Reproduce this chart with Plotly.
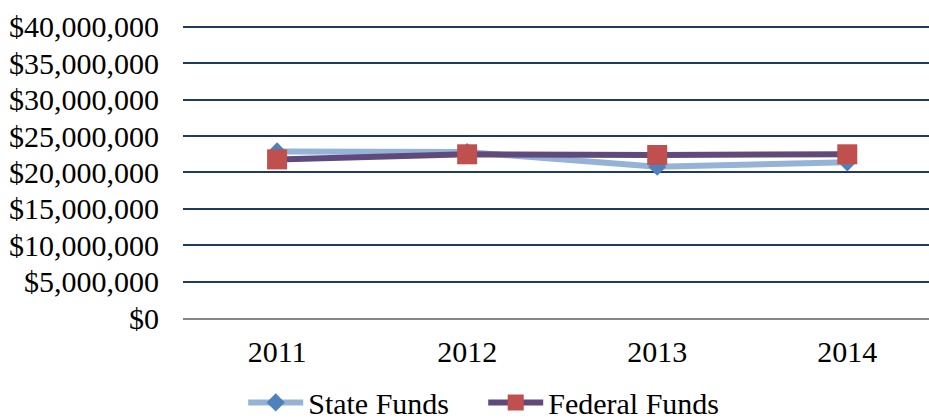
import plotly.graph_objects as go

years = ["2011", "2012", "2013", "2014"]
state_funds = [22900000, 22800000, 20800000, 21400000]
federal_funds = [21800000, 22500000, 22400000, 22500000]
y_ticks = [0, 5000000, 10000000, 15000000, 20000000, 25000000, 30000000, 35000000, 40000000]
y_tick_labels = ["$0", "$5,000,000", "$10,000,000", "$15,000,000", "$20,000,000",
                 "$25,000,000", "$30,000,000", "$35,000,000", "$40,000,000"]

xpos = list(range(len(years)))
FONT = "Liberation Serif, Times New Roman, serif"

fig = go.Figure()
fig.add_trace(go.Scatter(
    x=xpos, y=state_funds, name="State Funds", mode="lines+markers",
    line=dict(color="#95B3D7", width=6),
    marker=dict(symbol="diamond", size=14, color="#4F81BD"),
))
fig.add_trace(go.Scatter(
    x=xpos, y=federal_funds, name="Federal Funds", mode="lines+markers",
    line=dict(color="#604A7B", width=6),
    marker=dict(symbol="square", size=20, color="#C0504D"),
))

fig.update_layout(
    width=929, height=419,
    margin=dict(l=183, r=0, t=25, b=101, autoexpand=False),
    paper_bgcolor="white", plot_bgcolor="white",
    font=dict(family=FONT, size=30, color="black"),
    showlegend=True,
    legend=dict(orientation="h", x=0.0807, xanchor="left", y=-0.288, yanchor="middle",
                font=dict(size=30), itemwidth=55, entrywidth=170, tracegroupgap=0,
                bgcolor="rgba(0,0,0,0)"),
    xaxis=dict(
        range=[-0.495, 3.43], tickvals=xpos, ticktext=years,
        showgrid=False, zeroline=False, showline=True, linecolor="#868686", linewidth=2,
        ticks="outside", ticklen=6, tickcolor="rgba(0,0,0,0)",
    ),
    yaxis=dict(
        range=[0, 40270000], tickvals=y_ticks, ticktext=y_tick_labels,
        showgrid=True, gridcolor="#1F3B63", gridwidth=2, zeroline=False,
        ticks="outside", ticklen=17, tickcolor="rgba(0,0,0,0)",
    ),
)

fig.write_html(
    "out.html",
    config={"displayModeBar": False},
    post_script="document.body.style.margin='0';document.body.style.overflow='hidden';",
)
